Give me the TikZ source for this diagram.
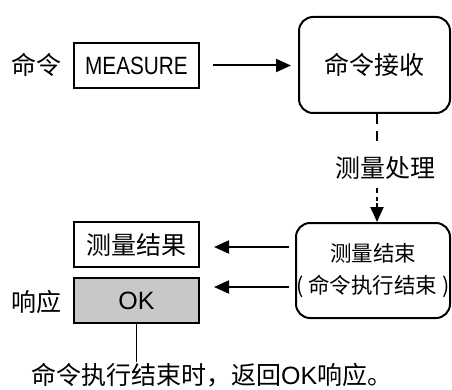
\documentclass[tikz,border=0pt]{standalone}
\usepackage{fontspec}
\setmainfont{Noto Sans CJK SC}
\newfontfamily\lat{Liberation Sans}
\newfontfamily\latn[FakeStretch=0.83]{Liberation Sans}
\usetikzlibrary{arrows.meta,calc}
\definecolor{okgray}{RGB}{200,200,200}
\begin{document}
\begin{tikzpicture}[x=1pt,y=-1pt,
  every node/.style={font=\fontsize{25}{30}\selectfont},
  sqbox/.style={draw,line width=2pt,minimum width=125pt,minimum height=45pt,inner sep=0pt},
  rbox/.style={draw,line width=2pt,rounded corners=14pt,inner sep=0pt},
  lab/.style={inner sep=0pt},
  arr/.style={line width=2pt,-{Triangle[length=15pt,width=13pt]}},
  dsh/.style={line width=2pt}
]
\useasboundingbox (0,0) rectangle (452,390);
\node[lab] (cmd) at (36,65) {命令};
\node[sqbox] (meas) at (136.5,65.5) {\latn MEASURE};
\node[rbox,minimum width=151pt,minimum height=96pt] (b1) at (374.5,65) {命令接收};
\node[lab] (proc) at (385,168) {测量处理};
\node[rbox,minimum width=154pt,minimum height=95pt,align=center,font=\fontsize{21.5}{32}\selectfont] (b2) at (373,270.5) {测量结束\\(\kern5pt 命令执行结束\kern5pt)};
\node[sqbox] (res) at (136.5,244.5) {测量结果};
\node[sqbox,fill=okgray] (ok) at (136.5,300.5) {\lat OK};
\node[lab] (resp) at (36,302) {响应};
\node[lab,anchor=west] (note) at (31,375) {命令执行结束时，返回{\lat OK}响应。};
\coordinate (lx) at (377,0);
\coordinate (d1) at (377,141);
\coordinate (d2) at (377,188);
\coordinate (okend) at (136.5,362);
\draw[arr,shorten <=13pt,shorten >=7pt] (meas.east) -- (b1.west |- meas.east);
\draw[dsh,dash pattern=on 10pt off 7pt] (b1.south -| lx) -- (d1);
\draw[arr,dash pattern=on 5pt off 4pt on 4pt off 2pt on 40pt] (d2) -- (b2.north -| lx);
\draw[arr,shorten <=6pt,shorten >=14pt] ([yshift=-2.5pt]b2.west |- res.east) -- ([yshift=-2.5pt]res.east);
\draw[arr,shorten <=6pt,shorten >=14pt] ([yshift=13.5pt]b2.west |- ok.east) -- ([yshift=13.5pt]ok.east);
\draw[line width=1.3pt] (ok.south) -- (okend);
\end{tikzpicture}
\end{document}
